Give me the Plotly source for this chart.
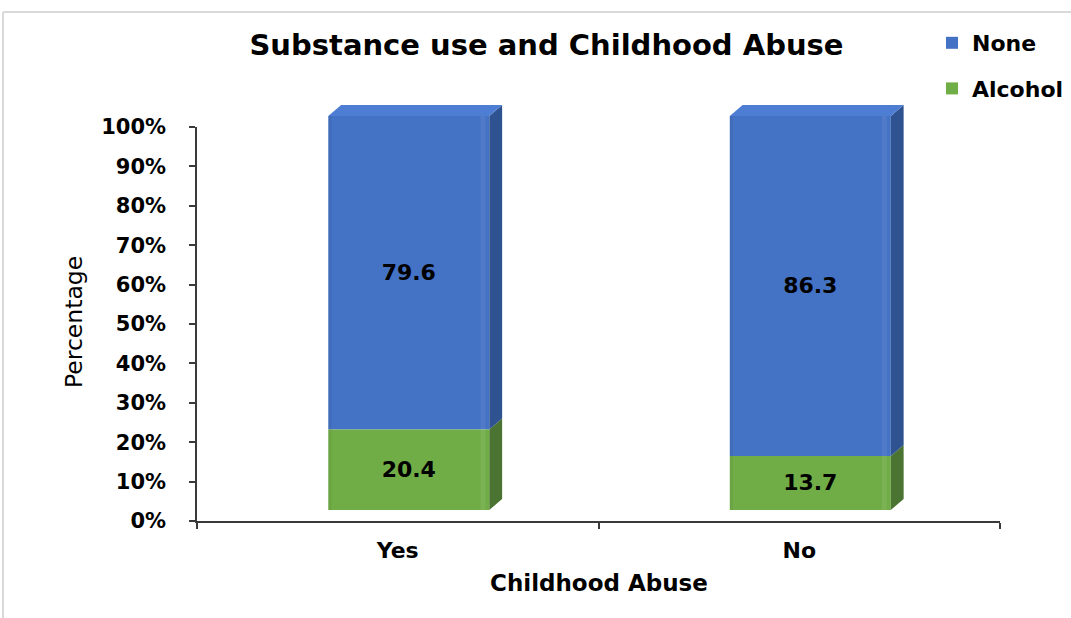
import plotly.graph_objects as go

# ---- data ----
categories = ["Yes", "No"]
alcohol = [20.4, 13.7]
none_use = [79.6, 86.3]
y_tick_values = [0, 10, 20, 30, 40, 50, 60, 70, 80, 90, 100]
y_tick_labels = ["0%", "10%", "20%", "30%", "40%", "50%", "60%", "70%", "80%", "90%", "100%"]

# ---- canvas / geometry ----
W, H = 1071, 618
L, R, T, B = 197, 71, 80, 97
PW = W - L - R
PH = H - T - B
PX_PER_PCT = 3.94                      # pixels per percentage point
Y_DOMAIN_TOP = 100 * PX_PER_PCT / PH   # visible 0-100% axis
Y2_MAX = PH / PX_PER_PCT               # drawing axis, same scale, taller

BAR_WIDTH = 0.401
BAR_SHIFT = -0.173
DEPTH_X = 0.032    # 3-D depth, category units
DEPTH_Y = 2.8      # 3-D depth, percentage units

BLUE = "#4472C4"
BLUE_SIDE = "#2F5290"
BLUE_TOP = "#4D7ED3"
GREEN = "#70AD47"
GREEN_SIDE = "#4B7331"

FONT = "DejaVu Sans"


def px_x(p):
    return (p - L) / PW


def px_y(p):
    return (H - B - p) / PH


fig = go.Figure()

bold_label = dict(family=FONT, size=22, color="black", weight="bold")

fig.add_trace(go.Bar(
    name="None", x=categories, y=none_use,
    base=[DEPTH_Y + a for a in alcohol],
    width=BAR_WIDTH, offset=BAR_SHIFT,
    marker=dict(color=BLUE, line=dict(width=0)),
    text=[f"{v:.1f}" for v in none_use], textposition="inside",
    insidetextanchor="middle", textangle=0, constraintext="none",
    textfont=bold_label, yaxis="y2", legendgroup="none",
    hoverinfo="skip",
))
fig.add_trace(go.Bar(
    name="Alcohol", x=categories, y=alcohol,
    base=[DEPTH_Y] * len(alcohol),
    width=BAR_WIDTH, offset=BAR_SHIFT,
    marker=dict(color=GREEN, line=dict(width=0)),
    text=[f"{v:.1f}" for v in alcohol], textposition="inside",
    insidetextanchor="middle", textangle=0, constraintext="none",
    textfont=bold_label, yaxis="y2", legendgroup="alcohol",
    hoverinfo="skip",
))
# empty trace so the percentage axis subplot is created
fig.add_trace(go.Scatter(
    x=categories, y=[None, None], yaxis="y", mode="markers",
    showlegend=False, hoverinfo="skip",
))

# ---- 3-D faces of each column ----
shapes = []


def poly(pts, color):
    d = "M " + " L ".join(f"{x},{y}" for x, y in pts) + " Z"
    return dict(type="path", path=d, xref="x", yref="y2",
                fillcolor=color, line=dict(width=0), layer="above")


for i, (a, n) in enumerate(zip(alcohol, none_use)):
    xl = i + BAR_SHIFT
    xr = xl + BAR_WIDTH
    b0 = DEPTH_Y
    b1 = b0 + a
    b2 = b1 + n
    # right-hand side faces
    shapes.append(poly([(xr, b0), (xr + DEPTH_X, b0 + DEPTH_Y),
                        (xr + DEPTH_X, b1 + DEPTH_Y), (xr, b1)], GREEN_SIDE))
    shapes.append(poly([(xr, b1), (xr + DEPTH_X, b1 + DEPTH_Y),
                        (xr + DEPTH_X, b2 + DEPTH_Y), (xr, b2)], BLUE_SIDE))
    # top face
    shapes.append(poly([(xl, b2), (xl + DEPTH_X, b2 + DEPTH_Y),
                        (xr + DEPTH_X, b2 + DEPTH_Y), (xr, b2)], BLUE_TOP))
    # soft highlight near the right edge and shade on the left edge
    shapes.append(dict(type="rect", xref="x", yref="y2",
                       x0=xr - 0.022, x1=xr - 0.010, y0=b0, y1=b2,
                       fillcolor="rgba(255,255,255,0.07)", line=dict(width=0)))
    shapes.append(dict(type="rect", xref="x", yref="y2",
                       x0=xl, x1=xl + 0.008, y0=b0, y1=b2,
                       fillcolor="rgba(0,0,0,0.05)", line=dict(width=0)))

# light frame around the chart area
shapes.append(dict(type="line", xref="paper", yref="paper",
                   x0=px_x(3), x1=px_x(W + 5), y0=px_y(12), y1=px_y(12),
                   line=dict(color="#D9D9D9", width=2)))
shapes.append(dict(type="line", xref="paper", yref="paper",
                   x0=px_x(3), x1=px_x(3), y0=px_y(12), y1=px_y(H + 5),
                   line=dict(color="#D9D9D9", width=2)))

axis_color = "#3A3A3A"

fig.update_layout(
    width=W, height=H,
    margin=dict(l=L, r=R, t=T, b=B, autoexpand=False),
    paper_bgcolor="white", plot_bgcolor="rgba(0,0,0,0)",
    barmode="overlay",
    showlegend=True,
    title=dict(text="Substance use and Childhood Abuse",
               x=546.5 / W, xanchor="center", xref="container",
               y=1 - 45 / H, yanchor="middle", yref="container",
               font=dict(family=FONT, size=29, color="black", weight="bold")),
    xaxis=dict(type="category", range=[-0.5, 1.5], domain=[0, 1],
               tickson="boundaries", ticks="outside", ticklen=6,
               tickwidth=1.5, tickcolor=axis_color,
               showline=True, linecolor=axis_color, linewidth=1.5,
               showgrid=False, zeroline=False, anchor="y",
               tickfont=bold_label, ticklabelstandoff=9),
    yaxis=dict(range=[0, 100], domain=[0, Y_DOMAIN_TOP],
               tickmode="array", tickvals=y_tick_values, ticktext=y_tick_labels,
               ticks="outside", ticklen=6, tickwidth=1.5, tickcolor=axis_color,
               showline=True, linecolor=axis_color, linewidth=1.5,
               showgrid=False, zeroline=False, anchor="x",
               tickfont=dict(family=FONT, size=21, color="black", weight="bold"),
               ticklabelstandoff=19),
    yaxis2=dict(range=[0, Y2_MAX], domain=[0, 1], anchor="x",
                visible=False, showgrid=False, zeroline=False),
    legend=dict(x=px_x(932), y=px_y(22), xanchor="left", yanchor="top",
                font=dict(family=FONT, size=22, color="black", weight="bold"),
                bgcolor="rgba(0,0,0,0)", traceorder="grouped",
                tracegroupgap=14, itemclick=False),
    shapes=shapes,
    annotations=[
        dict(text="Percentage", xref="paper", yref="paper",
             x=px_x(74), y=px_y(322), xanchor="center", yanchor="middle",
             textangle=-90, showarrow=False,
             font=dict(family=FONT, size=23.5, color="black")),
        dict(text="Childhood Abuse", xref="paper", yref="paper",
             x=px_x(599), y=px_y(583), xanchor="center", yanchor="middle",
             showarrow=False,
             font=dict(family=FONT, size=23, color="black", weight="bold")),
    ],
)

fig.write_html("out.html")
